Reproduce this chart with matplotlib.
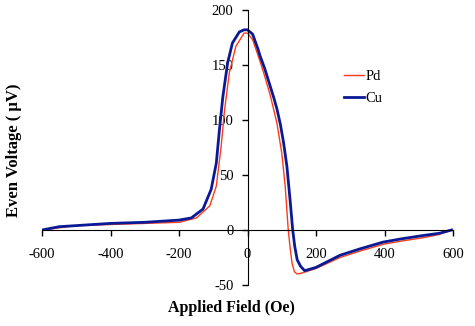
import numpy as np
import matplotlib
matplotlib.use('Agg')
from matplotlib import pyplot as plt

# values
cu_field = [-600, -550, -500, -400, -300, -200, -164, -130, -106, -91, -82, -72, -58, -44,
            -24, -10, 0, 15, 30, 37, 50, 66, 76, 86, 96, 105, 115, 125, 132, 138, 145,
            155, 167, 200, 270, 330, 396, 450, 513, 560, 596]
cu_volt = [0, 3, 4, 6, 7, 9, 11, 19, 37, 61, 91, 121, 152, 170,
           180, 182, 182, 178, 165, 158, 147, 131, 121, 110, 96, 80, 58, 25, 0, -15, -27,
           -33, -37, -34, -23, -17, -11, -8, -5, -3, 0]

pd_field = [-600, -550, -500, -400, -300, -200, -149, -110, -91, -77, -67, -53, -34, -10,
            0, 15, 37, 50, 66, 86, 100, 110, 119, 124, 130, 137, 145, 160, 200, 270, 330,
            396, 450, 513, 560, 596]
pd_volt = [0, 2, 4, 5, 6, 7, 11, 22, 40, 76, 109, 143, 167, 179,
           179, 173, 153, 140, 123, 97, 70, 40, 0, -15, -30, -38, -40, -39, -35, -25, -19,
           -13, -10, -7, -4, 0]

x_ticks = [-600, -400, -200, 0, 200, 400, 600]
y_ticks = [-50, 0, 50, 100, 150, 200]

plt.rcParams['font.family'] = ['Liberation Serif', 'DejaVu Serif']
plt.rcParams['axes.unicode_minus'] = False

fig = plt.figure(figsize=(4.75, 3.26), dpi=100)
ax = fig.add_axes([42/475, 1 - 285/326, 411/475, 275/326])

ax.plot(pd_field, pd_volt, color='#ff3a1a', lw=1.0, label='Pd')
ax.plot(cu_field, cu_volt, color='#0a1a96', lw=2.0, label='Cu')

ax.set_xlim(-600, 600)
ax.set_ylim(-50, 200)

# excel style axes crossing at the origin
ax.spines['left'].set_position(('data', 0))
ax.spines['bottom'].set_position(('data', 0))
ax.spines['top'].set_visible(False)
ax.spines['right'].set_visible(False)
ax.set_xticks(x_ticks)
ax.set_yticks(y_ticks)
ax.tick_params(axis='both', direction='out', length=4, width=1, labelsize=10.5)
ax.tick_params(axis='x', pad=9)
ax.tick_params(axis='y', pad=6)

fig.text(231/475, 1 - 308/326, 'Applied Field (Oe)', ha='center', va='center',
         fontsize=11.5, fontweight='bold')
fig.text(14/475, 1 - 150/326, 'Even Voltage ( \u03bcV)', ha='center', va='center',
         rotation=90, fontsize=12, fontweight='bold')

ax.legend(loc='upper left', bbox_to_anchor=((344 - 42)/411, (285 - 70)/275), frameon=False,
          fontsize=10.5, handlelength=1.4, handletextpad=0.1, labelspacing=0.6,
          borderaxespad=0, borderpad=0)

fig.savefig('out.png', dpi=100)
